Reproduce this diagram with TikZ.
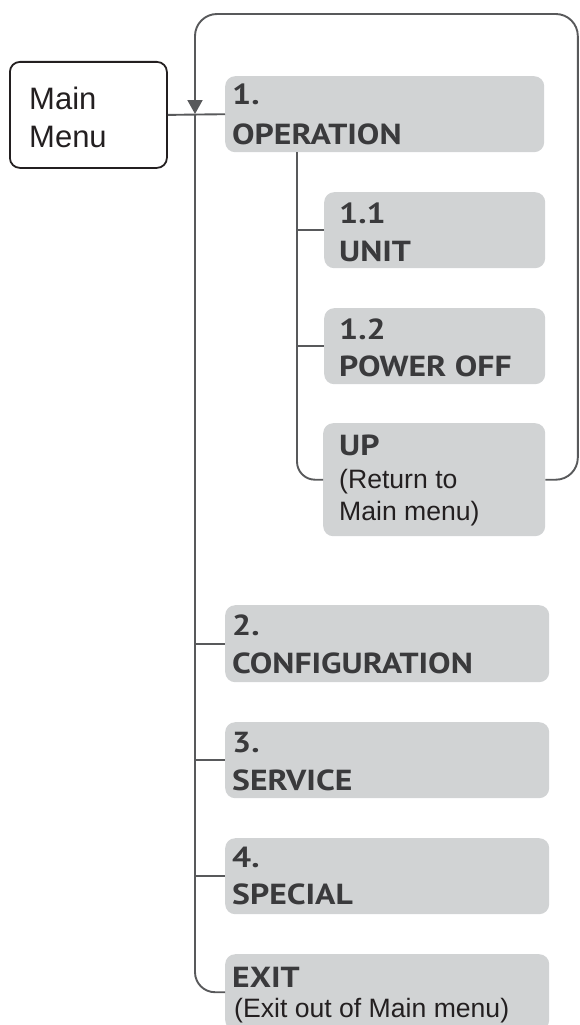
\documentclass[tikz,border=0pt]{standalone}
\usepackage{fontspec}
\setmainfont{Liberation Sans}
\newfontfamily\boldfam{PT Sans}[FakeStretch=1.16]
\usetikzlibrary{arrows.meta}
\definecolor{linegray}{HTML}{58595B}
\definecolor{boxgray}{HTML}{D1D3D4}
\definecolor{txtgray}{HTML}{3A3A3C}
\definecolor{txtdark}{HTML}{231F20}
\tikzset{
  menubox/.style={fill=boxgray, rounded corners=10pt, draw=none, inner sep=0pt},
  btxt/.style={anchor=base west, inner sep=0pt, text=txtgray, font=\boldfam\bfseries\fontsize{29}{29}\selectfont},
  rtxt/.style={anchor=base west, inner sep=0pt, text=txtdark, font=\fontsize{26.6}{26.6}\selectfont},
  conn/.style={draw=linegray, line width=1.9pt},
}
\begin{document}
\begin{tikzpicture}[x=1pt,y=-1pt]
\useasboundingbox (0,0) rectangle (579,1025);
% boxes
\node[draw=txtdark, line width=1.8pt, rounded corners=10pt, minimum width=157pt, minimum height=106pt, anchor=north west, inner sep=0pt] (main) at (9,61) {};
\node[rtxt, font=\fontsize{31}{31}\selectfont] (mainA) at (29,109) {Main};
\node[rtxt, font=\fontsize{31}{31}\selectfont] (mainB) at (29,147) {Menu};

\node[menubox, minimum width=319pt, minimum height=76pt, anchor=north west] (op) at (225,76) {};
\node[btxt] (opA) at (232,104) {1.};
\node[btxt] (opB) at (232,144) {OPERATION};

\node[menubox, minimum width=221pt, minimum height=76pt, anchor=north west] (unit) at (324,192) {};
\node[btxt] (unitA) at (339,223) {1.1};
\node[btxt] (unitB) at (339,261) {UNIT};

\node[menubox, minimum width=221pt, minimum height=76pt, anchor=north west] (pwr) at (324,308) {};
\node[btxt] (pwrA) at (339,339) {1.2};
\node[btxt] (pwrB) at (339,376) {POWER OFF};

\node[menubox, minimum width=222pt, minimum height=113pt, anchor=north west] (up) at (323,423) {};
\node[btxt] (upA) at (339,455) {UP};
\node[rtxt] (upB) at (339,488) {(Return to};
\node[rtxt] (upC) at (339,520) {Main menu)};

\node[menubox, minimum width=324pt, minimum height=77pt, anchor=north west] (cfg) at (225,605) {};
\node[btxt] (cfgA) at (232,635) {2.};
\node[btxt] (cfgB) at (232,673) {CONFIGURATION};

\node[menubox, minimum width=324pt, minimum height=76pt, anchor=north west] (srv) at (225,722) {};
\node[btxt] (srvA) at (232,752) {3.};
\node[btxt] (srvB) at (232,790) {SERVICE};

\node[menubox, minimum width=324pt, minimum height=76pt, anchor=north west] (spc) at (225,838) {};
\node[btxt] (spcA) at (232,867) {4.};
\node[btxt] (spcB) at (232,904) {SPECIAL};

\node[menubox, minimum width=324pt, minimum height=76pt, anchor=north west] (exit) at (225,954) {};
\node[btxt] (exitA) at (232,987) {EXIT};
\node[rtxt] (exitB) at (234,1017) {(Exit out of Main menu)};

% coordinates
\coordinate (jn) at (195,114);
\coordinate (subtop) at (297,152);
\coordinate (rgt) at (577.8,14);

% loop back from UP to main spine
\draw[conn, rounded corners=22pt, -{Triangle[width=15pt,length=14pt]}]
  (up.east) -| (rgt) -| (jn);
% main connector
\draw[conn] (main.east) -- (op.west);
% main spine
\draw[conn, rounded corners=20pt] (jn) |- (exit.west);
\draw[conn] (cfg.west -| jn) -- (cfg.west);
\draw[conn] (srv.west -| jn) -- (srv.west);
\draw[conn] (spc.west -| jn) -- (spc.west);
% sub spine
\draw[conn, rounded corners=18pt] (subtop) |- (up.west);
\draw[conn] (unit.west -| subtop) -- (unit.west);
\draw[conn] (pwr.west -| subtop) -- (pwr.west);
\end{tikzpicture}
\end{document}
